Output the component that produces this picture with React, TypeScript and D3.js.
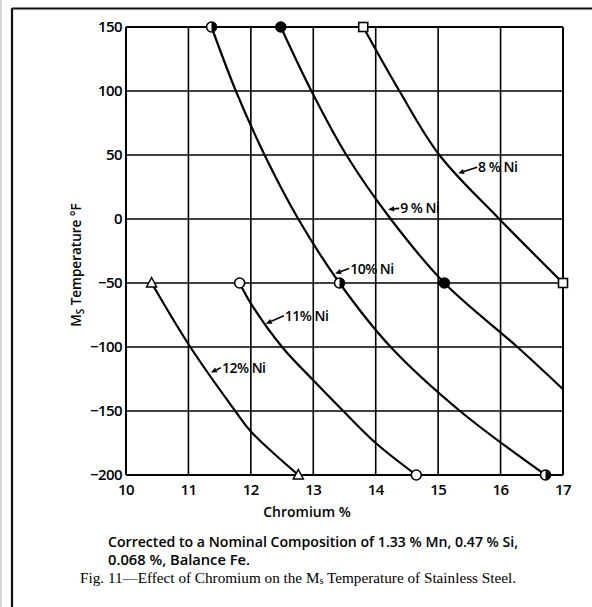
import React from "react";
import * as d3 from "d3";

const crTicks = [10, 11, 12, 13, 14, 15, 16, 17];
const tempTicks = [150, 100, 50, 0, -50, -100, -150, -200];

// [Chromium %, Ms temperature °F]
const ni8 = [[13.8, 150], [14.38, 100], [15.02, 50], [15.98, 0], [17.0, -50]];
const ni9 = [[12.48, 150], [12.97, 100], [13.53, 50], [14.24, 0], [15.1, -50], [16.27, -100], [17.0, -133]];
const ni10 = [[11.37, 150], [11.76, 100], [12.22, 50], [12.76, 0], [13.42, -50], [14.24, -100], [15.35, -150], [16.72, -200]];
const ni11 = [[11.82, -50], [12.0, -66], [12.5, -100], [13.0, -126], [13.48, -150], [14.0, -175], [14.65, -200]];
const ni12 = [[10.41, -50], [11.03, -100], [11.75, -150], [12.0, -166], [12.76, -200]];

// measured points with symbols
const ni8Marks = [[13.8, 150], [17.0, -50]];
const ni9Marks = [[12.48, 150], [15.1, -50]];
const ni10Marks = [[11.37, 150], [13.42, -50], [16.72, -200]];
const ni11Marks = [[11.82, -50], [14.65, -200]];
const ni12Marks = [[10.41, -50], [12.76, -200]];

const curveLabels = ["8 % Ni", "9 % Ni", "10% Ni", "11% Ni", "12% Ni"];
// where each label's arrow touches its curve [Cr, T]
const labelTips = [[15.32, 35.7], [14.2, 7.5], [13.35, -42.6], [12.24, -81.8], [11.36, -120]];

const xTitle = "Chromium %";
const captionLines = ["Corrected to a Nominal Composition of 1.33 % Mn, 0.47 % Si,", "0.068 %, Balance Fe."];

const SANS = "'Open Sans', 'Noto Sans', sans-serif";
const SERIF = "'Liberation Serif', 'DejaVu Serif', serif";

export default function App() {
  const x = d3.scaleLinear().domain([10, 17]).range([126, 563]);
  const y = d3.scaleLinear().domain([-200, 150]).range([475, 27]);
  const line = d3
    .line<number[]>()
    .x((d) => x(d[0]))
    .y((d) => y(d[1]))
    .curve(d3.curveCatmullRom.alpha(0.5));

  const series = [ni8, ni9, ni10, ni11, ni12];
  const labelOffsets = [
    [20, -6],
    [12, -1],
    [15, -5],
    [19, -8],
    [11, -5],
  ];

  const sq = (p: number[], k: string) => (
    <rect key={k} x={x(p[0]) - 4.5} y={y(p[1]) - 4.5} width={9} height={9} fill="#fff" stroke="#000" strokeWidth={1.6} />
  );
  const dot = (p: number[], k: string, fill: string) => (
    <circle key={k} cx={x(p[0])} cy={y(p[1])} r={5} fill={fill} stroke="#000" strokeWidth={1.6} />
  );
  const half = (p: number[], k: string) => {
    const cx = x(p[0]);
    const cy = y(p[1]);
    return (
      <g key={k}>
        <circle cx={cx} cy={cy} r={5} fill="#fff" stroke="#000" strokeWidth={1.6} />
        <path d={`M${cx},${cy - 5} A5,5 0 0 1 ${cx},${cy + 5} Z`} fill="#000" />
      </g>
    );
  };
  const tri = (p: number[], k: string) => {
    const cx = x(p[0]);
    const cy = y(p[1]);
    return (
      <path key={k} d={`M${cx},${cy - 5.5} L${cx + 5},${cy + 4} L${cx - 5},${cy + 4} Z`} fill="#fff" stroke="#000" strokeWidth={1.5} />
    );
  };

  return (
    <svg width={592} height={607} style={{ position: "absolute", left: 0, top: 0, background: "#fff" }}>
      <rect x={0} y={0} width={592} height={607} fill="#fff" />
      {/* page frame */}
      <line x1={1} y1={0} x2={1} y2={607} stroke="#c8c8c8" strokeWidth={1.5} />
      <line x1={12} y1={8.5} x2={592} y2={8.5} stroke="#111" strokeWidth={2} />
      <line x1={12} y1={8} x2={12} y2={607} stroke="#111" strokeWidth={2.2} />

      {/* grid */}
      {crTicks.map((c) => (
        <line key={"gx" + c} x1={x(c)} x2={x(c)} y1={y(150)} y2={y(-200)} stroke="#000" strokeWidth={c === 10 || c === 17 ? 2 : 1.6} />
      ))}
      {tempTicks.map((t) => (
        <line key={"gy" + t} x1={x(10)} x2={x(17)} y1={y(t)} y2={y(t)} stroke="#000" strokeWidth={t === 150 || t === -200 ? 2 : 1.6} />
      ))}

      {/* tick labels */}
      {tempTicks.map((t) => (
        <text key={"ty" + t} x={x(10) - 4} y={y(t)} dy="0.36em" textAnchor="end" fontFamily={SANS} fontSize={15} fontWeight={600} letterSpacing={-0.6}>
          {t < 0 ? "\u2212" + Math.abs(t) : String(t)}
        </text>
      ))}
      {crTicks.map((c) => (
        <text key={"tx" + c} x={x(c)} y={y(-200) + 20} textAnchor="middle" fontFamily={SANS} fontSize={15} fontWeight={600} letterSpacing={-0.6}>
          {c}
        </text>
      ))}

      {/* curves */}
      {series.map((s, i) => (
        <path key={"c" + i} d={line(s) || ""} fill="none" stroke="#000" strokeWidth={2.2} />
      ))}

      {/* markers */}
      {ni8Marks.map((p, i) => sq(p, "m8" + i))}
      {ni9Marks.map((p, i) => dot(p, "m9" + i, "#000"))}
      {ni10Marks.map((p, i) => half(p, "m10" + i))}
      {ni11Marks.map((p, i) => dot(p, "m11" + i, "#fff"))}
      {ni12Marks.map((p, i) => tri(p, "m12" + i))}

      {/* curve labels with arrows */}
      {curveLabels.map((lab, i) => {
        const tx = x(labelTips[i][0]);
        const ty = y(labelTips[i][1]);
        const [dx, dy] = labelOffsets[i];
        const ex = tx + dx - 1;
        const ey = ty + dy;
        const ang = Math.atan2(ey - ty, ex - tx);
        const hl = 6;
        const hw = 2.6;
        const bx = tx + hl * Math.cos(ang);
        const by = ty + hl * Math.sin(ang);
        const px = -Math.sin(ang) * hw;
        const py = Math.cos(ang) * hw;
        return (
          <g key={"l" + i}>
            <line x1={bx} y1={by} x2={ex} y2={ey} stroke="#000" strokeWidth={1.6} />
            <path d={`M${tx},${ty} L${bx + px},${by + py} L${bx - px},${by - py} Z`} fill="#000" />
            <text x={tx + dx} y={ty + dy} dy="0.36em" fontFamily={SANS} fontSize={14} fontWeight={600} letterSpacing={-0.5}>
              {lab}
            </text>
          </g>
        );
      })}

      {/* axis titles */}
      <text transform="translate(81,265) rotate(-90)" textAnchor="middle" fontFamily={SANS} fontSize={13.5} fontWeight={600}>
        M<tspan fontSize={10} dy={3}>S</tspan>
        <tspan dy={-3}> Temperature °F</tspan>
      </text>
      <text x={307} y={517} textAnchor="middle" fontFamily={SANS} fontSize={14} fontWeight={600}>
        {xTitle}
      </text>

      {/* caption */}
      <text x={108} y={547} fontFamily={SANS} fontSize={14} fontWeight={600} textLength={410} lengthAdjust="spacingAndGlyphs">
        {captionLines[0]}
      </text>
      <text x={108} y={565} fontFamily={SANS} fontSize={14} fontWeight={600} textLength={142} lengthAdjust="spacingAndGlyphs">
        {captionLines[1]}
      </text>
      <text x={80} y={583} fontFamily={SERIF} fontSize={14.5} textLength={436} lengthAdjust="spacingAndGlyphs">
        Fig. 11—Effect of Chromium on the M<tspan fontSize={10} dy={1}>s</tspan>
        <tspan dy={-1}> Temperature of Stainless Steel.</tspan>
      </text>
    </svg>
  );
}
